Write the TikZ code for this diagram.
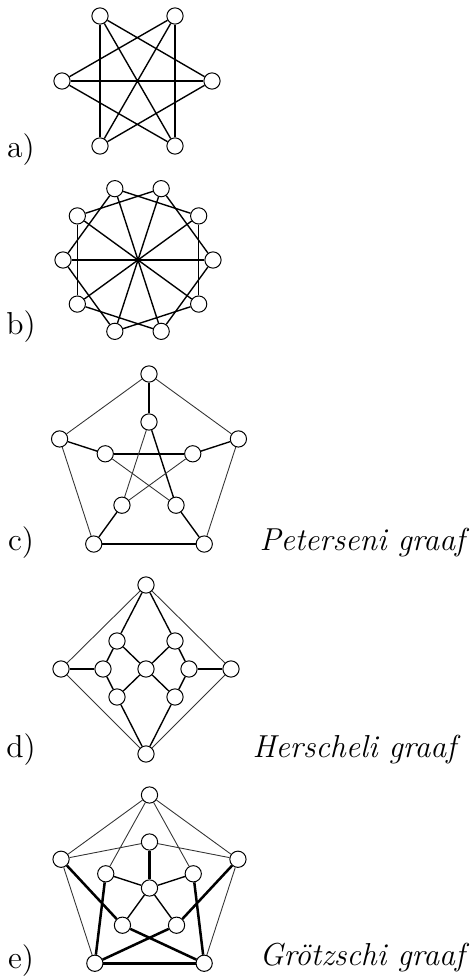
\documentclass[tikz,border=0pt]{standalone}
\tikzset{
  vert/.style={draw,circle,fill=white,inner sep=0pt,minimum size=6.5pt,line width=0.4pt},
  midline/.style={line width=0.55pt},
  thinline/.style={line width=0.35pt,black!80},
  boldline/.style={line width=1pt},
  tag/.style={inner sep=0pt,font=\fontsize{12.7}{15}\selectfont},
  caption/.style={inner sep=0pt,anchor=west,font=\fontsize{12.7}{15}\selectfont\itshape}
}
\begin{document}
\begin{tikzpicture}[x=0.4pt,y=0.4pt]
\useasboundingbox (0,0) rectangle (471,-980);

% a)
\node[vert] (a1) at (100,-16) {};
\node[vert] (a2) at (175,-16) {};
\node[vert] (a3) at (212,-81) {};
\node[vert] (a4) at (175,-146) {};
\node[vert] (a5) at (100,-146) {};
\node[vert] (a6) at (62,-81) {};
\draw[midline] (a1) -- (a5) (a2) -- (a4) (a6) -- (a3);
\draw[midline] (a1) -- (a4) (a2) -- (a5);
\draw[midline] (a1) -- (a3) (a2) -- (a6) (a6) -- (a4) (a3) -- (a5);
\node[tag] (la) at (21,-150) {a)};

% b)
\begin{scope}[shift={(138,-260)}]
\foreach \k in {0,...,9}
  \node[vert] (b\k) at (36*\k:75) {};
\end{scope}
\foreach \k in {0,...,9} {
  \pgfmathtruncatemacro{\kk}{mod(\k+2,10)}
  \draw[midline] (b\k) -- (b\kk);
}
\foreach \k in {0,...,4} {
  \pgfmathtruncatemacro{\kk}{\k+5}
  \draw[midline] (b\k) -- (b\kk);
}
\node[tag] (lb) at (21,-327) {b)};

% c) Petersen
\begin{scope}[shift={(149,-468)}]
\foreach \k in {0,...,4} {
  \node[vert] (o\k) at (90+72*\k:94) {};
  \node[vert] (i\k) at (90+72*\k:46) {};
}
\end{scope}
\draw[thinline] (o0) -- (o1) -- (o2) (o3) -- (o4) -- (o0);
\draw[boldline] (o2) -- (o3);
\draw[boldline] (o0) -- (i0);
\draw[midline] (o1) -- (i1) (o4) -- (i4);
\draw[midline] (o2) -- (i2) (o3) -- (i3);
\draw[boldline] (i1) -- (i4);
\draw[midline] (i0) -- (i3);
\draw[thinline] (i0) -- (i2) (i1) -- (i3) (i2) -- (i4);
\node[tag] (lc) at (21,-543) {c)};
\node[caption] (pc) at (259,-543) {Peterseni graaf};

% d) Herschel
\node[vert] (dt) at (146,-585) {};
\node[vert] (dl) at (61,-669) {};
\node[vert] (dr) at (231,-669) {};
\node[vert] (db) at (146,-754) {};
\node[vert] (dc) at (146,-669) {};
\node[vert] (dil) at (103,-669) {};
\node[vert] (dir) at (189,-669) {};
\node[vert] (dul) at (117,-641) {};
\node[vert] (dur) at (175,-641) {};
\node[vert] (dll) at (117,-697) {};
\node[vert] (dlr) at (175,-697) {};
\draw[thinline] (dt) -- (dl) -- (db) -- (dr) -- (dt);
\draw[midline] (dt) -- (dul) (dt) -- (dur) (db) -- (dll) (db) -- (dlr);
\draw[boldline] (dl) -- (dil) (dr) -- (dir);
\draw[midline] (dil) -- (dul) (dil) -- (dll) (dir) -- (dur) (dir) -- (dlr);
\draw[midline] (dc) -- (dul) (dc) -- (dur) (dc) -- (dll) (dc) -- (dlr);
\node[tag] (ld) at (21,-750) {d)};
\node[caption] (hd) at (252,-750) {Herscheli graaf};

% e) Groetzsch
\begin{scope}[shift={(149.5,-888)}]
\foreach \k in {0,...,4} {
  \node[vert] (u\k) at (90+72*\k:93) {};
  \node[vert] (v\k) at (90+72*\k:46) {};
}
\node[vert] (w) at (0,0) {};
\end{scope}
\draw[thinline] (u0) -- (u1) -- (u2) (u3) -- (u4) -- (u0);
\draw[boldline] (u2) -- (u3);
\draw[thinline] (v0) -- (u4) (v0) -- (u1) (v1) -- (u0) (v4) -- (u0);
\draw[boldline] (v1) -- (u2) (v2) -- (u1) (v2) -- (u3);
\draw[boldline] (v3) -- (u2) (v3) -- (u4) (v4) -- (u3);
\draw[boldline] (w) -- (v0);
\draw[midline] (w) -- (v1) (w) -- (v2) (w) -- (v3) (w) -- (v4);
\node[tag] (le) at (21,-961) {e)};
\node[caption] (ge) at (259,-958) {Gr\"otzschi graaf};
\end{tikzpicture}
\end{document}
